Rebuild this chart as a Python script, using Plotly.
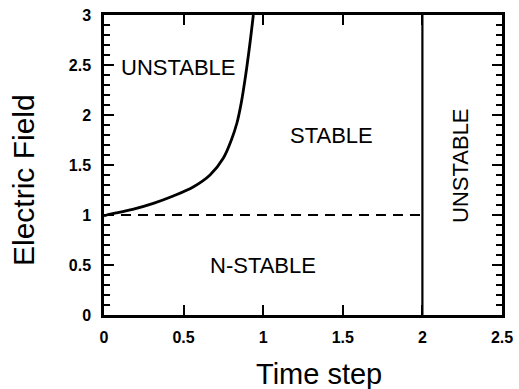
import plotly.graph_objects as go

# Stability boundary curve (time step, electric field)
curve_t = [0.0, 0.017, 0.18, 0.31, 0.435, 0.56, 0.666, 0.75, 0.80, 0.835, 0.862, 0.89, 0.917, 0.938]
curve_e = [0.99, 1.0, 1.057, 1.117, 1.19, 1.28, 1.40, 1.57, 1.75, 1.92, 2.12, 2.40, 2.72, 3.0]

dash_t = [0.0, 2.0]
dash_e = [1.0, 1.0]

vert_t = [2.0, 2.0]
vert_e = [0.0, 3.0]

labels = ["UNSTABLE", "STABLE", "N-STABLE", "UNSTABLE"]
label_t = [0.47, 1.43, 1.0, 2.236]
label_e = [2.48, 1.8, 0.5, 1.5]
label_angle = [0, 0, 0, -90]

x_ticks = [0, 0.5, 1, 1.5, 2, 2.5]
x_ticktext = ["0", "0.5", "1", "1.5", "2", "2.5"]
y_ticks = [0, 0.5, 1, 1.5, 2, 2.5, 3]
y_ticktext = ["0", "0.5", "1", "1.5", "2", "2.5", "3"]

x_title = "Time step"
y_title = "Electric Field"

fig = go.Figure()
fig.add_trace(go.Scatter(x=curve_t, y=curve_e, mode="lines",
                         line=dict(color="black", width=2.8, shape="spline", smoothing=1.0), showlegend=False))
fig.add_trace(go.Scatter(x=dash_t, y=dash_e, mode="lines",
                         line=dict(color="black", width=2, dash="10px,7px"), showlegend=False))
fig.add_trace(go.Scatter(x=vert_t, y=vert_e, mode="lines",
                         line=dict(color="black", width=2.2), showlegend=False))

for txt, tx, ty, ang in zip(labels, label_t, label_e, label_angle):
    fig.add_annotation(x=tx, y=ty, text=txt, showarrow=False, textangle=ang,
                       font=dict(family="Liberation Sans, Arial", size=22, color="black"))

# axis titles placed as annotations (offset from the plot centre as in the original)
fig.add_annotation(x=0.54, y=-0.197, xref="paper", yref="paper", text=x_title, showarrow=False,
                   xanchor="center", yanchor="middle",
                   font=dict(family="Liberation Sans, Arial", size=29, color="black"))
fig.add_annotation(x=-0.2035, y=0.45, xref="paper", yref="paper", text=y_title, showarrow=False,
                   textangle=-90, xanchor="center", yanchor="middle",
                   font=dict(family="Liberation Sans, Arial", size=30, color="black"))

fig.update_layout(
    width=519, height=389,
    margin=dict(l=104, r=17, t=15, b=74, autoexpand=False),
    plot_bgcolor="white", paper_bgcolor="white",
    font=dict(family="Liberation Sans, Arial", color="black"),
    hovermode=False,
)
fig.update_xaxes(
    range=[0, 2.5], tickvals=x_ticks, ticktext=x_ticktext,
    ticks="inside", ticklen=10, tickwidth=2, tickcolor="black",
    showline=True, linewidth=2.5, linecolor="black", mirror="allticks",
    showgrid=False, zeroline=False, automargin=False,
    tickfont=dict(size=16, weight="bold"), ticklabelstandoff=6, ticklabeloverflow="allow",
)
fig.update_yaxes(
    range=[0, 3], tickvals=y_ticks, ticktext=y_ticktext,
    ticks="inside", ticklen=10, tickwidth=2, tickcolor="black",
    minor=dict(dtick=0.1, ticks="inside", ticklen=6, tickwidth=2, tickcolor="black", showgrid=False),
    showline=True, linewidth=2.5, linecolor="black", mirror="allticks",
    showgrid=False, zeroline=False, automargin=False,
    tickfont=dict(size=16, weight="bold"), ticklabelstandoff=7, ticklabeloverflow="allow",
)
# remove the browser's default page margin so the 519x389 figure fills the window exactly
fig.write_html("out.html", config={"displayModeBar": False},
               post_script="document.body.style.margin='0px';document.body.style.overflow='hidden';")
